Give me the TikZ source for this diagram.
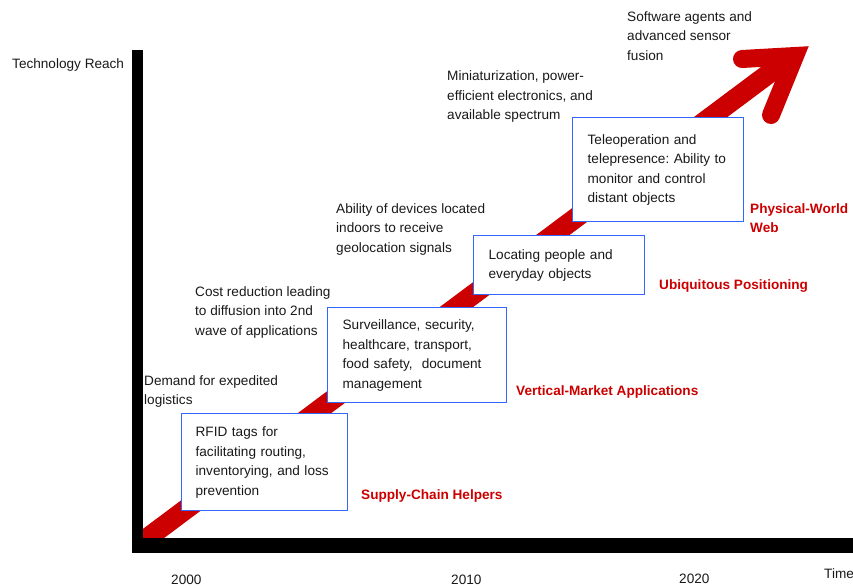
\documentclass[tikz,border=0pt]{standalone}
\usepackage{fontspec}
\setmainfont{Liberation Sans}
\frenchspacing
\definecolor{arrowred}{RGB}{204,0,0}
\definecolor{labelred}{RGB}{204,0,0}
\definecolor{boxblue}{RGB}{51,102,255}
\definecolor{ink}{RGB}{25,25,25}
\newcommand{\bodyfont}{\fontsize{13.6}{19.5}\selectfont}
\begin{document}
\begin{tikzpicture}[x=1pt,y=-1pt,
  note/.style={font=\bodyfont, text=ink, align=left, anchor=north west, inner sep=0pt},
  oneline/.style={font=\bodyfont, text=ink, anchor=base west, inner sep=0pt},
  phase/.style={font=\bodyfont\bfseries, text=labelred, align=left, anchor=base west, inner sep=0pt},
  stagebox/.style={draw=boxblue, line width=1.3pt, fill=white, anchor=north west,
    align=left, font=\bodyfont, text=ink, inner ysep=0pt},
  axisbar/.style={fill=black},
  trend/.style={draw=arrowred, line width=20pt},
  trendhead/.style={draw=arrowred, line width=18pt, line cap=round, line join=miter}
]
\useasboundingbox (0,0) rectangle (853,588);

% rising trend arrow, clipped at the axes corner
\begin{scope}
  \clip (133,0) rectangle (853,545);
  \draw[trend] (118,560) -- (787,60);
\end{scope}
\draw[trendhead] (742,59) -- (795,56) -- (771,115);

% stage boxes
\node[stagebox, text width=138pt, inner xsep=14pt, minimum height=97pt] (rfid) at (181,413)
  {\strut RFID tags for\\facilitating routing,\\inventorying, and loss\\prevention\strut};
\node[stagebox, text width=149pt, inner xsep=15pt, minimum height=95pt] (vertical) at (327,307)
  {\strut Surveillance, security,\\healthcare, transport,\\food safety,\ \ document\\management\strut};
\node[stagebox, text width=141pt, inner xsep=15pt, minimum height=59pt] (locating) at (473,235)
  {\strut Locating people and\\everyday objects\strut};
\node[stagebox, text width=141pt, inner xsep=15pt, minimum height=104pt] (teleop) at (572,117)
  {\strut Teleoperation and\\telepresence: Ability to\\monitor and control\\distant objects\strut};

% axes
\fill[axisbar] (132,50) rectangle (143,553);
\fill[axisbar] (132,538) rectangle (853,553);

% axis labels
\node[oneline] (reach) at (12,69) {Technology Reach};
\node[oneline] (y2000) at (171,584) {2000};
\node[oneline] (y2010) at (451,584) {2010};
\node[oneline] (y2020) at (679,583) {2020};
\node[oneline] (time) at (824,578) {Time};

% drivers
\node[note] (demand) at (144,371.35) {\strut Demand for expedited\\logistics};
\node[note] (cost) at (195,282.35) {\strut Cost reduction leading\\to diffusion into 2nd\\wave of applications};
\node[note] (indoor) at (336,199.35) {\strut Ability of devices located\\indoors to receive\\geolocation signals};
\node[note] (mini) at (447,66.85) {\strut Miniaturization, power-\\efficient electronics, and\\available spectrum};
\node[note] (agents) at (627,7.35) {\strut Software agents and\\advanced sensor\\fusion};

% phases
\node[phase] (supply) at (361,499) {Supply-Chain Helpers};
\node[phase] (vmarket) at (516,395) {Vertical-Market Applications};
\node[phase] (ubiq) at (659,289) {Ubiquitous Positioning};
\node[phase, anchor=north west] (pww) at (750,199.35) {\strut Physical-World\\Web};
\end{tikzpicture}
\end{document}
